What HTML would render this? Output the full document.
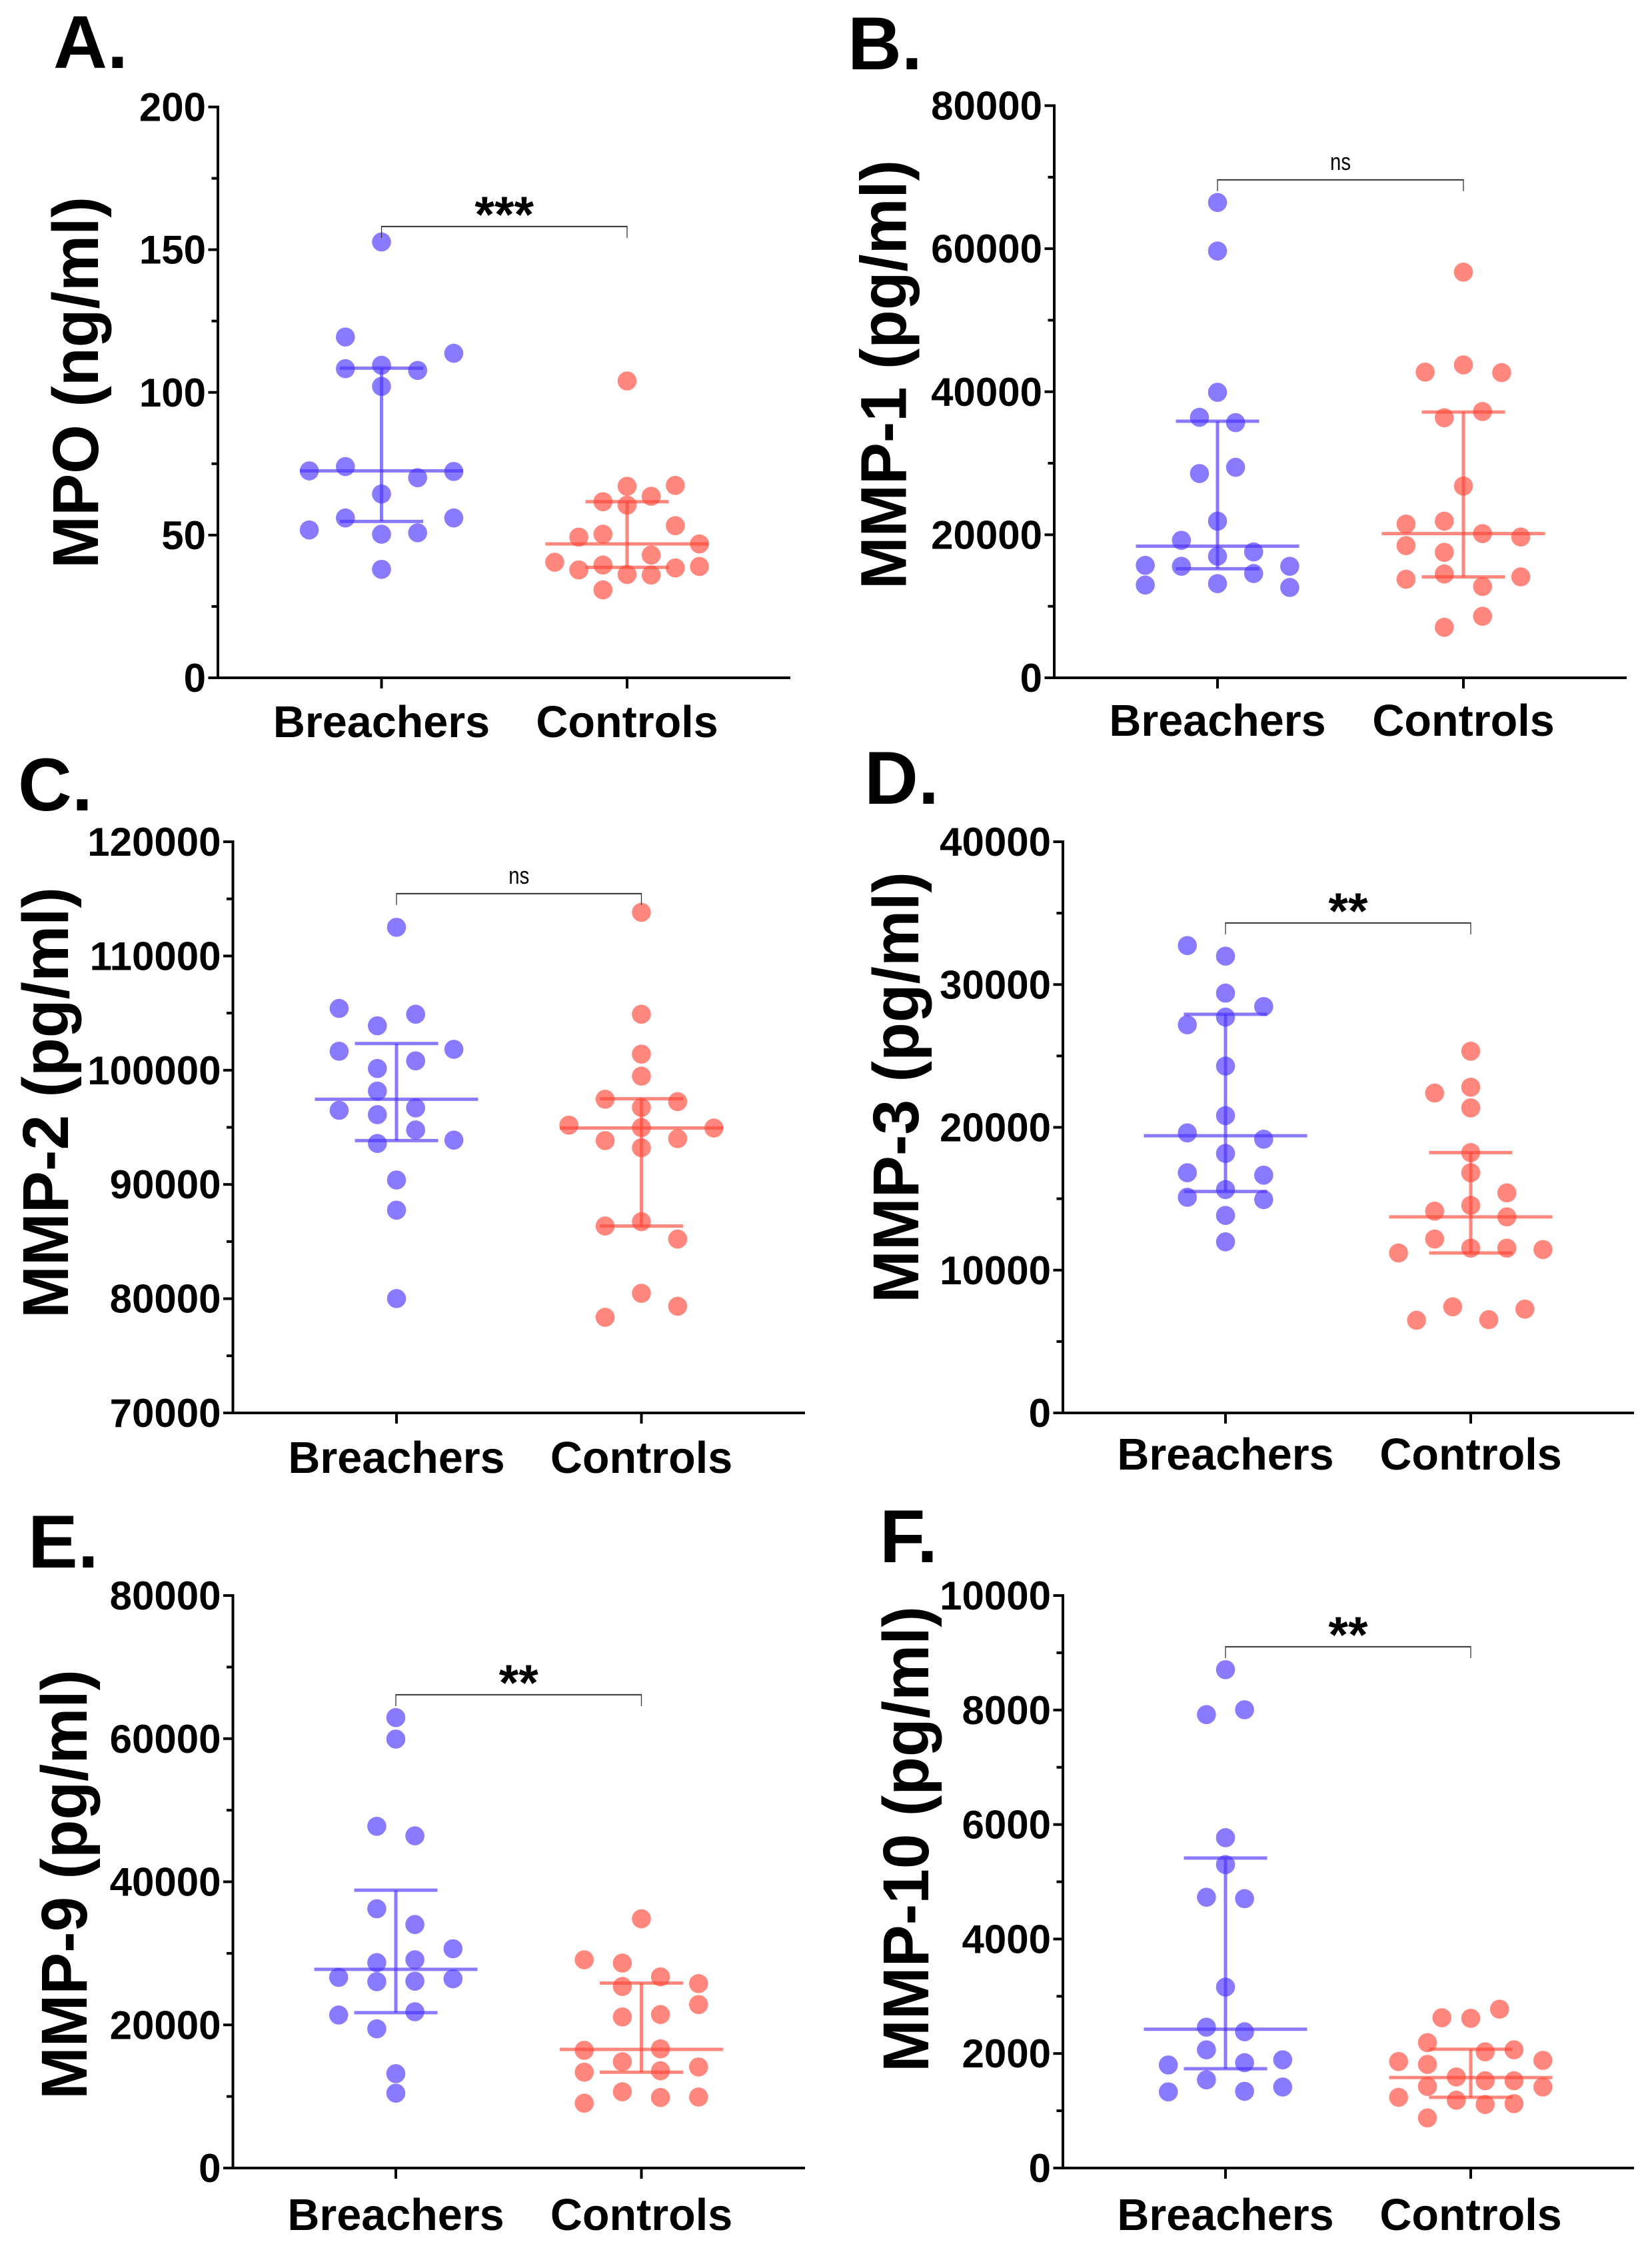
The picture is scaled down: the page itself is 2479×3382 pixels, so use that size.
<!DOCTYPE html>
<html lang="en">
<head>
<meta charset="utf-8">
<title>MPO and MMP levels in Breachers and Controls</title>
<style>
html,body{margin:0;padding:0;background:#fff;}
svg{display:block;}
text{font-family:"Liberation Sans",Arial,sans-serif;fill:#000;}
</style>
</head>
<body>
<svg id="figure" xmlns="http://www.w3.org/2000/svg" width="2479" height="3382" viewBox="0 0 2479 3382"></svg>
<script>
const groupLabels = ["Breachers", "Controls"];

const mpoTicks = [0, 50, 100, 150, 200];
const mpoBreachers = [152.7,119.4,113.7,109.5,108.3,107.7,102.1,74,72.5,72.3,70.1,64.4,56,56,51.8,50.3,50.8,38];
const mpoBreachersSlots = [0,-1,2,0,-1,1,0,-1,-2,2,1,0,2,-1,-2,0,1,0];
const mpoBreachersStats = [54.8,72.5,108.5];
const mpoControls = [104,67.1,67.4,63.6,61.7,60.5,53.3,49.3,50.3,46.9,43,40.5,39.5,38.5,39,37.8,36.2,36,30.8];
const mpoControlsSlots = [0,0,2,1,-1,0,2,-2,-1,3,1,-3,-1,2,3,-2,0,1,-1];
const mpoControlsStats = [38.7,46.9,61.7];

const mmp1Ticks = [0, 20000, 40000, 60000, 80000];
const mmp1Breachers = [66460,59670,39920,36420,35680,29430,28560,21900,19220,17600,17000,15720,15590,15590,14580,13170,12970,12630];
const mmp1BreachersSlots = [0,0,0,-1,1,1,-1,0,-2,2,0,-4,-2,4,2,0,-4,4];
const mmp1BreachersStats = [15250,18410,35880];
const mmp1Controls = [56720,43750,42740,42670,37230,36360,26810,21500,21900,20160,19690,18480,17540,14515,13780,14110,12770,8600,7060];
const mmp1ControlsSlots = [0,0,-2,2,1,-1,0,-3,-1,1,3,-3,-1,-1,-3,3,1,1,-1];
const mmp1ControlsStats = [14110,20160,37160];

const mmp2Ticks = [70000, 80000, 90000, 100000, 110000, 120000];
const mmp2Breachers = [112510,105410,104900,103890,101660,101830,100820,100150,98170,96490,96700,96110,94770,93880,93590,90390,87750,80010];
const mmp2BreachersSlots = [0,-3,1,-1,-3,3,1,-1,-1,-3,1,-1,1,3,-1,0,0,0];
const mmp2BreachersStats = [93840,97460,102340];
const mmp2Controls = [113820,104900,101410,99480,97460,97250,96740,95190,94980,94940,93840,94010,93210,86740,86360,85220,80470,79340,78370];
const mmp2ControlsSlots = [0,0,0,0,-2,2,0,-4,0,4,-2,2,0,0,-2,2,0,2,-2];
const mmp2ControlsStats = [86360,94940,97500];

const mmp3Ticks = [0, 10000, 20000, 30000, 40000];
const mmp3Breachers = [32730,31990,29400,28460,27720,27180,24290,20820,19610,19170,18170,16820,16650,15640,15100,14940,13830,11980];
const mmp3BreachersSlots = [-1,0,0,1,0,-1,0,0,-1,1,0,-1,1,0,-1,1,0,0];
const mmp3BreachersStats = [15510,19410,27920];
const mmp3Controls = [25330,22810,22400,21360,18230,16820,15410,14530,14130,13730,12180,11540,11540,11440,11200,7430,7270,6490,6530];
const mmp3ControlsSlots = [0,0,-2,0,0,0,2,0,-2,2,-2,0,2,4,-4,-1,3,-3,1];
const mmp3ControlsStats = [11200,13730,18230];

const mmp9Ticks = [0, 20000, 40000, 60000, 80000];
const mmp9Breachers = [62940,59940,47750,46420,36230,34030,30640,29100,28700,26640,26440,26040,26110,21840,21380,19450,13190,10460];
const mmp9BreachersSlots = [0,0,-1,1,-1,1,3,1,-1,-3,3,-1,1,1,-3,-1,0,0];
const mmp9BreachersStats = [21710,27770,38830];
const mmp9Controls = [34830,29100,28640,26710,25770,25370,22840,21450,21110,16450,16650,14850,14120,13590,13390,10660,9920,9860,9060];
const mmp9ControlsSlots = [0,-3,-1,1,3,-1,3,1,-1,-3,1,-1,3,1,-3,-1,3,1,-3];
const mmp9ControlsStats = [13390,16580,25840];

const mmp10Ticks = [0, 2000, 4000, 6000, 8000, 10000];
const mmp10Breachers = [8705,8005,7920,5770,5300,4730,4705,3160,2460,2380,2065,1890,1840,1800,1540,1415,1330,1340];
const mmp10BreachersSlots = [0,1,-1,0,0,-1,1,0,-1,1,-1,3,1,-3,-1,3,-3,1];
const mmp10BreachersStats = [1735,2425,5415];
const mmp10Controls = [2775,2625,2615,2190,2030,2065,1880,1860,1810,1590,1525,1525,1425,1415,1235,1185,1110,1125,875];
const mmp10ControlsSlots = [2,-2,0,-3,1,3,5,-5,-3,-1,1,3,-3,5,-5,-1,1,3,-3];
const mmp10ControlsStats = [1235,1580,2075];

const NS = "http://www.w3.org/2000/svg";
const BLUE = "rgb(75,50,255)";
const RED = "rgb(255,70,55)";
const ALPHA = 0.65;
const figure = document.getElementById("figure");

function mk(tag, attrs, parent, txt) {
  const el = document.createElementNS(NS, tag);
  for (const k in attrs) el.setAttribute(k, attrs[k]);
  if (txt !== undefined) el.textContent = txt;
  parent.appendChild(el);
  return el;
}

function drawSeries(panel, g, x0, values, slots, stats, slotPx, color, key, yScale) {
  const sg = mk("g", {}, g);
  
  
  values.forEach(function (v, i) {
    const dot = mk("circle", {cx: x0 + slots[i] * slotPx, cy: yScale(v), r: 14.3, fill: color, "fill-opacity": ALPHA}, sg);
    
    
  });
  const lineStyle = {stroke: color, "stroke-opacity": ALPHA, "stroke-width": 5, fill: "none"};
  function seg(x1, y1, x2, y2, name) {
    const l = mk("line", Object.assign({x1: x1, y1: y1, x2: x2, y2: y2}, lineStyle), sg);
    
    
  }
  seg(x0, yScale(stats[0]), x0, yScale(stats[2]), "iqr-line");
  seg(x0 - 122.5, yScale(stats[1]), x0 + 122.5, yScale(stats[1]), "median-line");
  seg(x0 - 62.5, yScale(stats[0]), x0 + 62.5, yScale(stats[0]), "q1-cap");
  seg(x0 - 62.5, yScale(stats[2]), x0 + 62.5, yScale(stats[2]), "q3-cap");
}

function drawPanel(p) {
  const g = mk("g", {}, figure);
  
  

  const lo = p.ticks[0], hi = p.ticks[p.ticks.length - 1];
  const yScale = function (v) { return p.base - (v - lo) / (hi - lo) * (p.base - p.top); };

  const letter = mk("text", {x: p.letterX, y: p.letterY, "font-size": 112, "font-weight": 700}, g, p.letter);
  
  

  const title = mk("text", {
    transform: "translate(" + p.titleX + "," + p.titleY + ") rotate(-90)",
    "font-size": 97, "font-weight": 700,
    textLength: p.titleLen, lengthAdjust: "spacingAndGlyphs"
  }, g, p.title);
  
  

  const axisStyle = {stroke: "#000", "stroke-width": 4, fill: "none"};
  const yAxis = mk("line", Object.assign({x1: p.axisX, y1: p.top - 2, x2: p.axisX, y2: p.base + 2}, axisStyle), g);
  
  
  const xAxis = mk("line", Object.assign({x1: p.axisX, y1: p.base, x2: p.axisEnd, y2: p.base}, axisStyle), g);
  
  

  p.ticks.forEach(function (t, i) {
    const y = yScale(t);
    const tick = mk("line", Object.assign({x1: p.axisX - 14.5, y1: y, x2: p.axisX, y2: y}, axisStyle), g);
    
    
    const lab = mk("text", {x: p.axisX - 18, y: y + 21, "text-anchor": "end", "font-size": 60, "font-weight": 700}, g, String(t));
    
    
    if (i < p.ticks.length - 1) {
      const ym = yScale((t + p.ticks[i + 1]) / 2);
      const minor = mk("line", Object.assign({x1: p.axisX - 9.5, y1: ym, x2: p.axisX, y2: ym}, axisStyle), g);
      
      
    }
  });

  [p.xA, p.xB].forEach(function (x, i) {
    const tick = mk("line", Object.assign({x1: x, y1: p.base, x2: x, y2: p.base + 16}, axisStyle), g);
    
    
    const lab = mk("text", {x: x, y: p.labelY, "text-anchor": "middle", "font-size": 66.5, "font-weight": 700}, g, groupLabels[i]);
    
    
  });

  drawSeries(p, g, p.xA, p.a, p.aSlots, p.aStats, p.aSlotPx, BLUE, "breachers", yScale);
  drawSeries(p, g, p.xB, p.b, p.bSlots, p.bStats, p.bSlotPx, RED, "controls", yScale);

  const by = yScale(p.bracket);
  const bracketTop = mk("line", {x1: p.xA, y1: by, x2: p.xB, y2: by, stroke: "#333", "stroke-width": 2}, g);
  
  
  [p.xA, p.xB].forEach(function (x) {
    const leg = mk("line", {x1: x, y1: by - 1, x2: x, y2: by + 17, stroke: "#333", "stroke-width": 1.3}, g);
    
    
  });

  const mid = (p.xA + p.xB) / 2;
  let sig;
  if (p.sig === "ns") {
    sig = mk("text", {x: mid, y: by - 15, "text-anchor": "middle", "font-size": 36, textLength: 31, lengthAdjust: "spacingAndGlyphs"}, g, p.sig);
  } else {
    sig = mk("text", {x: mid, y: by + 8, "text-anchor": "middle", "font-size": 76, "font-weight": 700}, g, p.sig);
  }
  
  
}

const panels = [
  {id:"mpo", letter:"A.", letterX:80, letterY:102, title:"MPO (ng/ml)", titleX:147, titleY:853, titleLen:558,
   axisX:327, axisEnd:1186, top:160.5, base:1017, xA:572.5, xB:941, labelY:1106,
   ticks:mpoTicks, a:mpoBreachers, aSlots:mpoBreachersSlots, aStats:mpoBreachersStats, aSlotPx:54.2,
   b:mpoControls, bSlots:mpoControlsSlots, bStats:mpoControlsStats, bSlotPx:36.2, bracket:158.1, sig:"***"},
  {id:"mmp-1", letter:"B.", letterX:1272, letterY:104, title:"MMP-1 (pg/ml)", titleX:1359.5, titleY:884, titleLen:644,
   axisX:1582, axisEnd:2441, top:158.5, base:1017, xA:1827, xB:2196, labelY:1104,
   ticks:mmp1Ticks, a:mmp1Breachers, aSlots:mmp1BreachersSlots, aStats:mmp1BreachersStats, aSlotPx:27.1,
   b:mmp1Controls, bSlots:mmp1ControlsSlots, bStats:mmp1ControlsStats, bSlotPx:28.7, bracket:69620, sig:"ns"},
  {id:"mmp-2", letter:"C.", letterX:27, letterY:1216, title:"MMP-2 (pg/ml)", titleX:102, titleY:1978, titleLen:647,
   axisX:349.5, axisEnd:1208, top:1263, base:2120, xA:595, xB:962.5, labelY:2210,
   ticks:mmp2Ticks, a:mmp2Breachers, aSlots:mmp2BreachersSlots, aStats:mmp2BreachersStats, aSlotPx:28.7,
   b:mmp2Controls, bSlots:mmp2ControlsSlots, bStats:mmp2ControlsStats, bSlotPx:27.2, bracket:115460, sig:"ns"},
  {id:"mmp-3", letter:"D.", letterX:1297, letterY:1206, title:"MMP-3 (pg/ml)", titleX:1378, titleY:1955, titleLen:647,
   axisX:1595, axisEnd:2452, top:1263, base:2120, xA:1839, xB:2207, labelY:2205,
   ticks:mmp3Ticks, a:mmp3Breachers, aSlots:mmp3BreachersSlots, aStats:mmp3BreachersStats, aSlotPx:57.3,
   b:mmp3Controls, bSlots:mmp3ControlsSlots, bStats:mmp3ControlsStats, bSlotPx:27.1, bracket:34310, sig:"**"},
  {id:"mmp-9", letter:"E.", letterX:42, letterY:2352, title:"MMP-9 (pg/ml)", titleX:130, titleY:3150, titleLen:645,
   axisX:349.5, axisEnd:1208, top:2394, base:3253, xA:594, xB:962.5, labelY:3346,
   ticks:mmp9Ticks, a:mmp9Breachers, aSlots:mmp9BreachersSlots, aStats:mmp9BreachersStats, aSlotPx:28.6,
   b:mmp9Controls, bSlots:mmp9ControlsSlots, bStats:mmp9ControlsStats, bSlotPx:28.6, bracket:66130, sig:"**"},
  {id:"mmp-10", letter:"F.", letterX:1320, letterY:2344, title:"MMP-10 (pg/ml)", titleX:1393, titleY:3109, titleLen:699,
   axisX:1595, axisEnd:2452, top:2394, base:3253, xA:1839, xB:2207, labelY:3346,
   ticks:mmp10Ticks, a:mmp10Breachers, aSlots:mmp10BreachersSlots, aStats:mmp10BreachersStats, aSlotPx:28.6,
   b:mmp10Controls, bSlots:mmp10ControlsSlots, bStats:mmp10ControlsStats, bSlotPx:21.65, bracket:9105, sig:"**"}
];

panels.forEach(drawPanel);
</script>
</body>
</html>
